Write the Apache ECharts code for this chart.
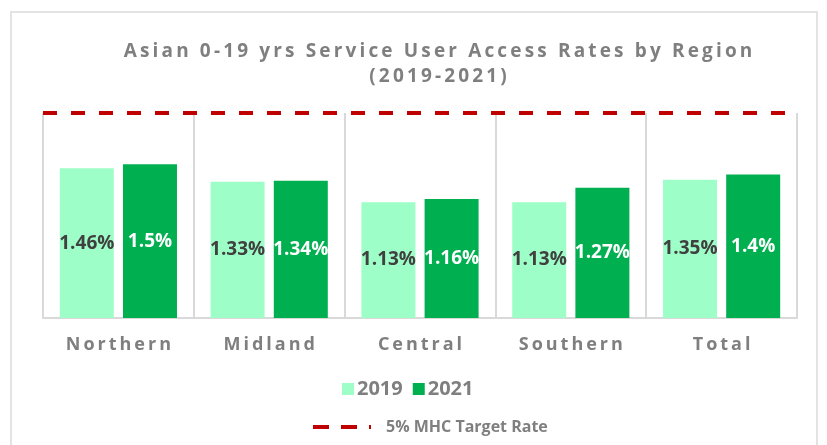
<!DOCTYPE html>
<html>
<head>
    <meta charset="utf-8">
    <title>Asian 0-19 yrs Service User Access Rates by Region</title>
    <script src="https://cdn.jsdelivr.net/npm/echarts@6/dist/echarts.min.js"></script>
    <style>
        html, body { margin: 0; padding: 0; background: #fff; }
        #frame {
            position: absolute; left: 10px; top: 11px; width: 808px; height: 440px;
            border: 2px solid #e3e3e3; box-sizing: border-box;
        }
        #chart1 { position: absolute; left: 0; top: 0; width: 827px; height: 445px; }
    </style>
</head>
<body>
<div id="frame"></div>
<div id="chart1"></div>
<script type="text/javascript">
    // 数据
    var regions = ['Northern', 'Midland', 'Central', 'Southern', 'Total'];
    var rate2019 = [1.46, 1.33, 1.13, 1.13, 1.35];
    var rate2021 = [1.5, 1.34, 1.16, 1.27, 1.4];
    var targetRate = 5;   // 5% MHC target, on the second (hidden) axis
    var titleLines = ['Asian 0-19 yrs Service User Access Rates by Region', '(2019-2021)'];

    // spaced-out lettering like the original
    function spaced(s, sp) {
        return s.split('').join(sp);
    }

    var grey = '#7f7f7f';
    var red = '#c00000';
    var font = '"Open Sans", "Lato", sans-serif';

    var myChart1 = echarts.init(document.getElementById('chart1'));
    myChart1.setOption({
        animation: false,
        title: {
            text: titleLines.map(function (t) { return spaced(t, '\u2009'); }).join('\n'),
            left: 433,
            top: 34,
            textAlign: 'center',
            textStyle: {
                color: grey, fontFamily: font, fontWeight: 'bold', fontSize: 19, lineHeight: 25
            }
        },
        legend: [{
            data: ['2019', '2021'],
            left: 337,
            top: 374,
            itemWidth: 12,
            itemHeight: 12,
            itemGap: 10,
            icon: 'rect',
            textStyle: { color: grey, fontFamily: font, fontWeight: 'bold', fontSize: 20, padding: [0, 0, 0, -2] }
        }, {
            data: [{
                name: '5% MHC Target Rate',
                icon: 'path://M0,0h16v4h-16z M28,0h16v4h-16z M56,0h2v4h-2z'
            }],
            left: 308,
            top: 414,
            itemWidth: 58,
            itemHeight: 4,
            textStyle: { color: grey, fontFamily: font, fontWeight: 'bold', fontSize: 16, padding: [0, 0, 0, 10] }
        }],
        grid: { left: 43, right: 30, top: 113, bottom: 127 },
        xAxis: {
            type: 'category',
            data: regions,
            axisTick: { show: false },
            axisLine: { lineStyle: { color: '#d9d9d9', width: 2 } },
            splitLine: { show: true, lineStyle: { color: '#d9d9d9', width: 2 } },
            axisLabel: {
                margin: 18,
                color: grey, fontFamily: font, fontWeight: 'bold', fontSize: 18,
                formatter: function (v) { return spaced(v, '\u2009'); }
            }
        },
        yAxis: [{
            type: 'value', min: 0, max: 2, show: false, splitLine: { show: false }
        }, {
            type: 'value', min: 0, max: 5, show: false, splitLine: { show: false }
        }],
        series: [{
            name: '2019',
            type: 'bar',
            data: rate2019,
            barWidth: 54,
            barGap: '17%',
            itemStyle: { color: '#9dffc7' },
            label: {
                show: true, position: 'inside',
                color: '#404040', fontFamily: font, fontWeight: 'bold', fontSize: 19,
                formatter: '{c}%'
            }
        }, {
            name: '2021',
            type: 'bar',
            data: rate2021,
            barWidth: 54,
            itemStyle: { color: '#00b050' },
            label: {
                show: true, position: 'inside',
                color: '#ffffff', fontFamily: font, fontWeight: 'bold', fontSize: 19,
                formatter: '{c}%'
            }
        }, {
            name: '5% MHC Target Rate',
            type: 'line',
            yAxisIndex: 1,
            data: [],
            symbol: 'none',
            itemStyle: { color: red },
            lineStyle: { color: red, width: 4, type: [14, 14] },
            markLine: {
                silent: true,
                symbol: 'none',
                label: { show: false },
                lineStyle: { color: red, width: 4, type: [14, 14] },
                data: [{ yAxis: targetRate }]
            }
        }]
    });
</script>
</body>
</html>
